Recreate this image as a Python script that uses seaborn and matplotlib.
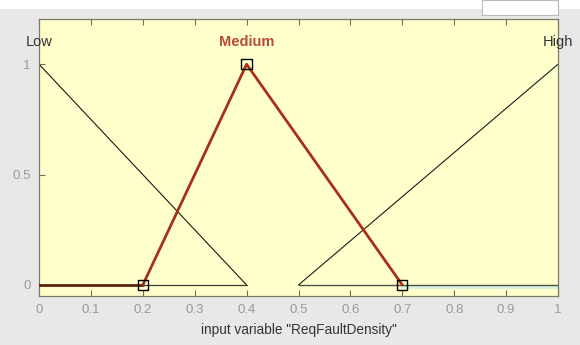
import matplotlib
matplotlib.use("Agg")
import matplotlib.pyplot as plt
from matplotlib.patches import Rectangle
import seaborn as sns
import pandas as pd

# Membership functions of input variable "ReqFaultDensity"
mf_names = ["Low", "Medium", "High"]
low_x = [0.0, 0.4]
low_y = [1.0, 0.0]
high_x = [0.5, 1.0]
high_y = [0.0, 1.0]
medium_x = [0.2, 0.4, 0.7]
medium_y = [0.0, 1.0, 0.0]
label_x = [0.0, 0.4, 1.0]
# zero-membership baseline segments
zero_left_x = [0.0, 0.4]
zero_right_x = [0.5, 1.0]
medium_zero_x = [0.0, 0.2]

x_ticks = [0, 0.1, 0.2, 0.3, 0.4, 0.5, 0.6, 0.7, 0.8, 0.9, 1]
x_ticklabels = ["0", "0.1", "0.2", "0.3", "0.4", "0.5", "0.6", "0.7", "0.8", "0.9", "1"]
y_ticks = [0, 0.5, 1]
y_ticklabels = ["0", "0.5", "1"]

sns.set_style("white")
plt.rcParams["font.family"] = ["Liberation Sans", "DejaVu Sans"]

fig = plt.figure(figsize=(5.8, 3.45), dpi=100, facecolor="#e8e8e8")
# white strip along the top edge and small white box at the upper right
fig.patches.append(Rectangle((0, 1 - 9 / 345), 1, 9 / 345, transform=fig.transFigure,
                             facecolor="white", edgecolor="none", zorder=0))
fig.patches.append(Rectangle((482 / 580, 1 - 15 / 345), 76 / 580, 15 / 345,
                             transform=fig.transFigure, facecolor="white",
                             edgecolor="#b8b8b8", linewidth=0.8, zorder=1))

ax = fig.add_axes([39 / 580, 1 - 296 / 345, 519 / 580, 277 / 345])
ax.set_facecolor("#ffffcc")

def seg(xs, ys):
    return pd.DataFrame({"x": xs, "mu": ys})

line_kw = dict(ax=ax, sort=False, estimator=None)
sns.lineplot(data=seg(low_x, low_y), x="x", y="mu", color="#1a1a1a", linewidth=0.8, **line_kw)
sns.lineplot(data=seg(high_x, high_y), x="x", y="mu", color="#1a1a1a", linewidth=0.8, **line_kw)
# faint cyan trace under the right-hand zero line
ax.plot([0.7, 1.0], [-0.008, -0.008], color="#d4f5e2", linewidth=2.0, zorder=1)
sns.lineplot(data=seg(zero_left_x, [0, 0]), x="x", y="mu", color="#3a3a30", linewidth=0.9, **line_kw)
sns.lineplot(data=seg(zero_right_x, [0, 0]), x="x", y="mu", color="#4a5046", linewidth=1.0, **line_kw)
sns.lineplot(data=seg(medium_zero_x, [0, 0]), x="x", y="mu", color="#5e2214", linewidth=2.0,
             zorder=3, **line_kw)
sns.lineplot(data=seg(medium_x, medium_y), x="x", y="mu", color="#a8301a", linewidth=2.0,
             zorder=3, **line_kw)
sns.scatterplot(data=seg(medium_x, medium_y), x="x", y="mu", ax=ax, marker="s", s=55,
                facecolor="none", edgecolor="black", linewidth=1.0, zorder=4)

for name, lx in zip(mf_names, label_x):
    if name == "Medium":
        ax.text(lx, 1.10, name, ha="center", va="center", fontsize=10.5,
                fontweight="bold", color="#b84a40", zorder=5)
    else:
        ax.text(lx, 1.10, name, ha="center", va="center", fontsize=10.5,
                color="#333333", zorder=5, clip_on=False)

ax.set_xlim(0, 1)
ax.set_ylim(-0.05, 1.205)
ax.set_xticks(x_ticks)
ax.set_xticklabels(x_ticklabels)
ax.set_yticks(y_ticks)
ax.set_yticklabels(y_ticklabels)
ax.tick_params(axis="both", direction="in", length=4, width=0.8, color="#6e6e5a",
               labelcolor="#9a9a9a", labelsize=9.5, top=True, bottom=True, left=True,
               right=False, pad=6)
ax.set_xlabel('input variable "ReqFaultDensity"', fontsize=9.8, color="#333333", labelpad=5)
ax.set_ylabel("")
for side in ["left", "bottom", "top", "right"]:
    ax.spines[side].set_color("#7a7a66")
    ax.spines[side].set_linewidth(0.9)

fig.savefig("out.png", dpi=100, facecolor=fig.get_facecolor())
